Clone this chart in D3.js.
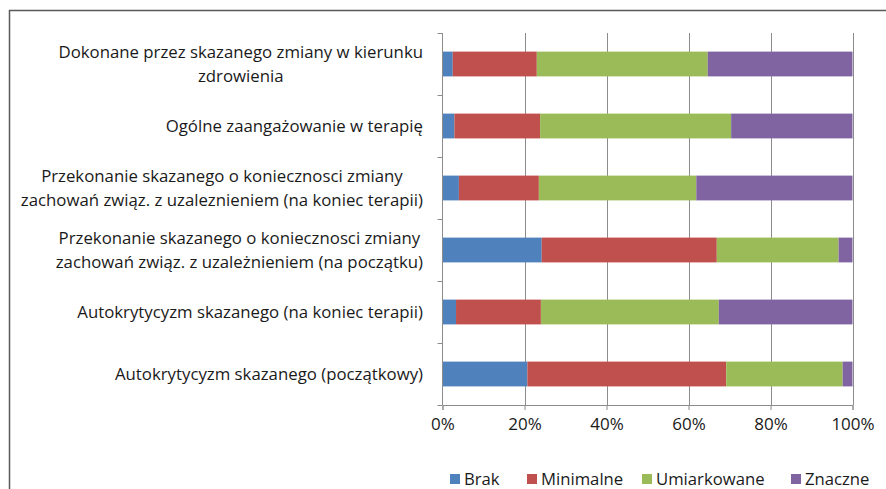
<!DOCTYPE html>
<html>
<head>
<meta charset="utf-8">
<script src="https://cdn.jsdelivr.net/npm/d3@7"></script>
<style>
html,body{margin:0;padding:0;background:#fff;}
svg{display:block;}
text{font-family:"Open Sans",sans-serif;fill:#1a1a1a;}
</style>
</head>
<body>
<svg id="chart" width="886" height="489"></svg>
<script>
// Categories, top to bottom (each entry = lines of the label)
const categories = [
  ["Dokonane przez skazanego zmiany w kierunku", "zdrowienia"],
  ["Ogólne zaangażowanie w terapię"],
  ["Przekonanie skazanego o koniecznosci zmiany", "zachowań związ. z uzaleznieniem (na koniec terapii)"],
  ["Przekonanie skazanego o koniecznosci zmiany", "zachowań związ. z uzależnieniem (na początku)"],
  ["Autokrytycyzm skazanego (na koniec terapii)"],
  ["Autokrytycyzm skazanego (początkowy)"]
];
const seriesNames = ["Brak", "Minimalne", "Umiarkowane", "Znaczne"];
const brak        = [2.5, 2.9, 4.0, 24.2, 3.3, 20.7];
const minimalne   = [20.5, 20.9, 19.5, 42.7, 20.7, 48.5];
const umiarkowane = [41.7, 46.6, 38.4, 29.7, 43.4, 28.4];
const znaczne     = [35.3, 29.6, 38.1, 3.4, 32.6, 2.4];
const xTicks = [0, 20, 40, 60, 80, 100];
const colors = ["#4F81BD", "#C0504D", "#9BBB59", "#8064A2"];

(function () {
const seriesValues = [brak, minimalne, umiarkowane, znaczne];
const rows = categories.map((c, i) => {
  const r = {key: i};
  seriesNames.forEach((s, j) => r[s] = seriesValues[j][i]);
  return r;
});

const svg = d3.select("#chart");
const pLeft = 442.5, pRight = 852.5, pTop = 33, pBottom = 405;

// frame
svg.append("path").attr("d", "M9.5,489 L9.5,10.5 L886,10.5")
  .attr("fill", "none").attr("stroke", "#5a5a5a").attr("stroke-width", 1.5);

const x = d3.scaleLinear().domain([0, 100]).range([pLeft, pRight]);
const y = d3.scaleBand().domain(d3.range(categories.length)).range([pTop, pBottom]).padding(0);
const barH = y.bandwidth() * 0.4;
const barOff = y.bandwidth() * 0.3;

// gridlines
svg.append("g").selectAll("line").data(xTicks.slice(1)).join("line")
  .attr("x1", d => Math.round(x(d)) + 0.5).attr("x2", d => Math.round(x(d)) + 0.5)
  .attr("y1", pTop).attr("y2", pBottom)
  .attr("stroke", "#8c8c8c").attr("stroke-width", 1);

// bars
const stacked = d3.stack().keys(seriesNames)(rows);
svg.append("g").selectAll("g").data(stacked).join("g")
  .attr("fill", (d, i) => colors[i])
  .selectAll("rect").data(d => d).join("rect")
  .attr("x", d => x(d[0]))
  .attr("width", d => x(d[1]) - x(d[0]))
  .attr("y", d => y(d.data.key) + barOff)
  .attr("height", barH);

// y axis
const yAxisG = svg.append("g");
yAxisG.append("line").attr("x1", pLeft).attr("x2", pLeft).attr("y1", pTop).attr("y2", pBottom)
  .attr("stroke", "#8c8c8c");
const boundaries = d3.range(categories.length + 1).map(i => i === categories.length ? pBottom : y(i));
yAxisG.selectAll("line.t").data(boundaries).join("line").attr("class", "t")
  .attr("x1", pLeft - 5).attr("x2", pLeft).attr("y1", d => Math.round(d) + 0.5).attr("y2", d => Math.round(d) + 0.5)
  .attr("stroke", "#8c8c8c");

// x axis
const xAxis = d3.axisBottom(x).tickValues(xTicks).tickFormat(d => d + "%").tickSize(5).tickPadding(8);
const xg = svg.append("g").attr("transform", `translate(0,${pBottom})`).call(xAxis);
xg.select(".domain").attr("stroke", "#8c8c8c");
xg.selectAll(".tick line").attr("stroke", "#8c8c8c");
xg.selectAll(".tick text").attr("font-size", 17).attr("font-family", "Open Sans").attr("fill", "#1a1a1a");

// category labels
const labelRight = 423;
const lineH = 24;
const fs = 16.8;
categories.forEach((lines, i) => {
  const cy = y(i) + y.bandwidth() / 2;
  const g = svg.append("g");
  const texts = lines.map((ln, k) => g.append("text")
    .attr("font-size", fs)
    .attr("y", cy + (k - (lines.length - 1) / 2) * lineH)
    .attr("dy", "0.35em")
    .text(ln));
  const widths = texts.map(t => t.node().getComputedTextLength());
  const maxW = d3.max(widths);
  const cx = labelRight - maxW / 2;
  texts.forEach(t => t.attr("x", cx).attr("text-anchor", "middle"));
});

// legend
const legendX = [450, 527, 642, 791];
const lg = svg.append("g");
seriesNames.forEach((s, i) => {
  lg.append("rect").attr("x", legendX[i]).attr("y", 474).attr("width", 10).attr("height", 10).attr("fill", colors[i]);
  lg.append("text").attr("x", legendX[i] + 14).attr("y", 479).attr("dy", "0.35em")
    .attr("font-size", 16.7).text(s);
});
})();
</script>
</body>
</html>
